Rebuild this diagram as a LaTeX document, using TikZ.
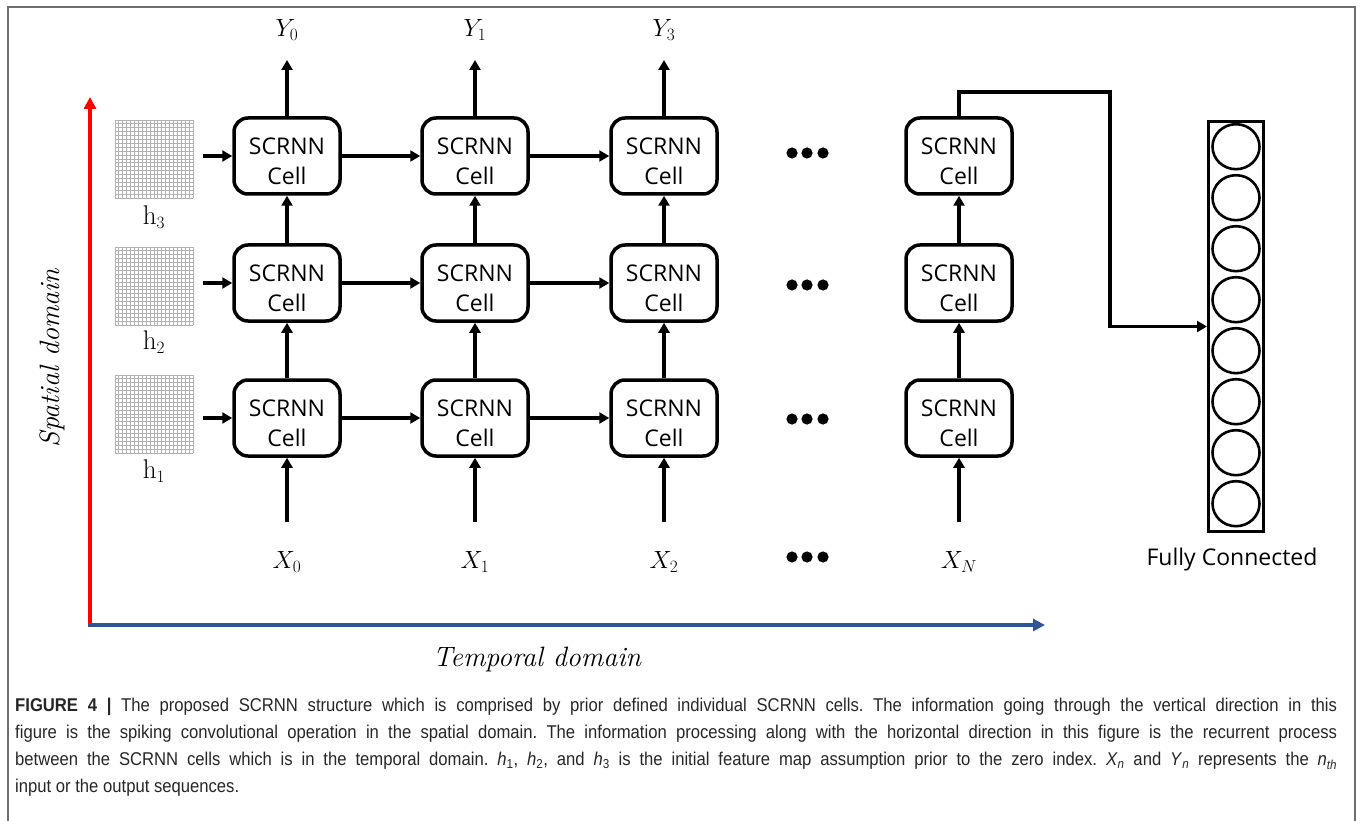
\documentclass[tikz,border=0pt]{standalone}
\usepackage{fontspec}
\usepackage{graphicx}
\usetikzlibrary{arrows.meta,calc,shapes.geometric}
\newfontfamily\cellfont{Open Sans}
\newfontfamily\capfont[FakeStretch=0.9]{Liberation Sans}
\definecolor{axisblue}{RGB}{47,85,151}
\definecolor{framegray}{RGB}{110,110,110}
\definecolor{gridgray}{RGB}{178,178,178}
\newcommand{\celltext}{\begin{tabular}{@{}c@{}}\rule{0pt}{36pt}SCRNN\\Cell\end{tabular}}
\frenchspacing
\begin{document}
\begin{tikzpicture}[x=1pt,y=-1pt,
  cell/.style={draw, line width=3.5pt, rounded corners=14pt, minimum width=106pt, minimum height=76pt,
    align=center, inner sep=0pt, font=\cellfont\fontsize{23}{30}\selectfont},
  arr/.style={line width=3.5pt, -{Triangle[length=10pt,width=11pt]}},
  mlabel/.style={font=\fontsize{27}{30}\selectfont, inner sep=0pt},
  gridbox/.style={minimum width=78pt, minimum height=78pt, inner sep=0pt},
  fcunit/.style={ellipse, draw, line width=2.6pt, minimum width=47pt, minimum height=45pt, inner sep=0pt},
  dotstyle/.style={fill=black}
]
\useasboundingbox (0,0) rectangle (1360,821);
% frame
\draw[framegray, line width=2pt] (8,830) -- (8,7) -- (1355,7) -- (1355,830);

% axes
\coordinate (orig) at (90,625);
\coordinate (ytip) at (90,97);
\coordinate (xtip) at (1045,625);
\draw[red, line width=3.5pt, -{Triangle[length=12pt,width=12pt]}] (orig) -- (ytip);
\draw[axisblue, line width=3.5pt, -{Triangle[length=12pt,width=12pt]}] ([xshift=-1.75pt]orig) -- (xtip);
\node[rotate=90, font=\fontsize{28}{32}\selectfont\itshape] (spat) at (52,358) {Spatial domain};
\node[font=\fontsize{28}{32}\selectfont\itshape] (temp) at (537,659) {Temporal domain};

% cells
\foreach \c/\x in {1/287,2/475,3/664,4/959}{
  \foreach \r/\y in {1/418,2/283,3/156}{
    \node[cell] (c\r\c) at (\x,\y) {\celltext};
  }
}

% grids
\foreach \r/\y/\ly in {1/414/471,2/286/342,3/159/217}{
  \node[gridbox] (g\r) at (154,\y) {};
  \foreach \i in {0,...,20}{
    \draw[gridgray, line width=0.45pt] ($(g\r.north west)+(\i*3.9,0)$) -- ($(g\r.south west)+(\i*3.9,0)$);
    \draw[gridgray, line width=0.45pt] ($(g\r.north west)+(0,\i*3.9)$) -- ($(g\r.north east)+(0,\i*3.9)$);
  }
  \node[mlabel] (h\r) at (154,\ly) {$\mathrm{h}_{\r}$};
  \coordinate (ga\r) at (203,0 |- c\r1.west);
  \draw[arr] (ga\r) -- (c\r1.west);
}

% horizontal arrows
\foreach \r in {1,2,3}{
  \draw[arr] (c\r1.east) -- (c\r2.west);
  \draw[arr] (c\r2.east) -- (c\r3.west);
}
% vertical arrows
\foreach \c in {1,2,3,4}{
  \draw[arr] (c1\c.north) -- (c2\c.south);
  \draw[arr] (c2\c.north) -- (c3\c.south);
}

% inputs
\foreach \c/\x/\lab in {1/287/X_0,2/475/X_1,3/664/X_2,4/959/X_N}{
  \coordinate (xa\c) at (\x,522);
  \draw[arr] (xa\c) -- (c1\c.south);
  \node[mlabel] (x\c) at (\x,562) {$\lab$};
}
% outputs
\foreach \c/\x/\lab in {1/287/Y_0,2/475/Y_1,3/664/Y_3}{
  \coordinate (ya\c) at (\x,60);
  \draw[arr] (c3\c.north) -- (ya\c);
  \node[mlabel] (y\c) at (\x,30) {$\lab$};
}

% dots
\foreach \y in {153,285,419,557}{
  \foreach \x in {792,807,823}{
    \fill[dotstyle] (\x,\y) circle (5.6pt);
  }
}

% fully connected
\node[draw, line width=3pt, minimum width=55pt, minimum height=410pt, inner sep=0pt] (fc) at (1236,326.5) {};
\foreach \i in {1,...,8}{
  \node[fcunit] (fc\i) at (1236,{146.7+51*(\i-1)}) {};
}
\node[font=\cellfont\fontsize{23}{28}\selectfont, inner sep=0pt] (fcl) at (1232,560) {Fully Connected};
\coordinate (k2) at (1110,92);
\draw[arr] (c34.north) |- (k2) |- (fc.west);

% caption
\node[anchor=north west, text width=1322pt, align=justify, inner sep=0pt,
  font=\capfont\fontsize{18.5}{27}\selectfont, text=black!85] (cap) at (15,698) {%
\textbf{FIGURE 4 |} The proposed SCRNN structure which is comprised by prior defined individual SCRNN cells. The information going through the vertical direction in this\linebreak
figure is the spiking convolutional operation in the spatial domain. The information processing along with the horizontal direction in this figure is the recurrent process\linebreak
between the SCRNN cells which is in the temporal domain. \textit{h}\textsubscript{1}, \textit{h}\textsubscript{2}, and \textit{h}\textsubscript{3} is the initial feature map assumption prior to the zero index. \textit{X}\textsubscript{\textit{n}} and \textit{Y}\textsubscript{\textit{n}} represents the \textit{n}\textsubscript{\textit{th}}\linebreak
input or the output sequences.};
\end{tikzpicture}
\end{document}
